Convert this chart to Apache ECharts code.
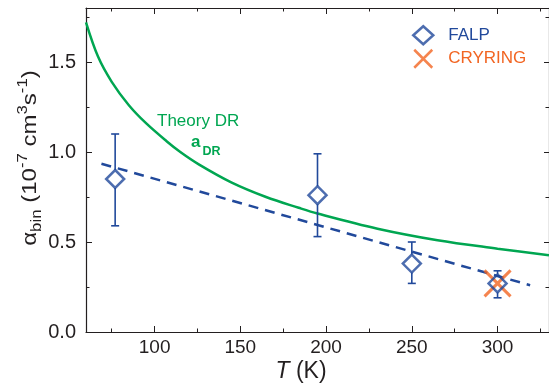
<!DOCTYPE html>
<html>
<head>
<meta charset="utf-8">
<script src="https://cdn.jsdelivr.net/npm/echarts@6/dist/echarts.min.js"></script>
<style>
  html, body { margin: 0; padding: 0; background: #ffffff; }
  #chart { width: 549px; height: 385px; }
</style>
</head>
<body>
<div id="chart"></div>
<script>
// Binary recombination rate coefficient versus temperature
const falpTemp = [77, 195, 250, 300];
const falpRate = [0.85, 0.76, 0.38, 0.27];
const falpErrLow = [0.59, 0.53, 0.27, 0.19];
const falpErrHigh = [1.10, 0.99, 0.50, 0.34];

const cryringTemp = [300];
const cryringRate = [0.27];

// Theoretical dielectronic recombination curve
const theoryTemp = [60, 67, 75, 85, 95, 107, 115, 126, 145, 165, 184, 195, 230, 265, 300, 330];
const theoryRate = [1.72, 1.53, 1.39, 1.26, 1.16, 1.06, 1.0, 0.93, 0.83, 0.75, 0.69, 0.658, 0.574, 0.51, 0.463, 0.426];

// Linear fit through the FALP data
const fitTemp = [69, 319];
const fitRate = [0.935, 0.26];

// Axis ticks
const xMajorTicks = [100, 150, 200, 250, 300];
const xMinorTicks = [75, 125, 175, 225, 275, 325];
const yMajorTicks = [0, 0.5, 1.0, 1.5];
const yMinorTicks = [0.25, 0.75, 1.25, 1.75];

const BLUE = '#21499b';
const GREEN = '#00a651';
const ORANGE = '#f26522';
const INK = '#231f20';
const FONT = 'Liberation Sans, Arial, Helvetica, sans-serif';

const X_MIN = 60, X_MAX = 330, Y_MIN = 0, Y_MAX = 1.8;
const CROSS = 'path://M0,0L10,10M10,0L0,10';

const zip = (a, b) => a.map((v, i) => [v, b[i]]);

function xAxisDef(position, ticks, len, showLine, showLabels) {
  return {
    type: 'value', position: position, min: X_MIN, max: X_MAX,
    axisLine: { show: showLine, onZero: false, lineStyle: { color: INK, width: 1.2 } },
    axisTick: { show: true, inside: true, length: len, customValues: ticks, lineStyle: { color: INK, width: 1 } },
    axisLabel: showLabels
      ? { show: true, customValues: ticks, margin: 6, color: INK, fontSize: 19, fontFamily: FONT }
      : { show: false },
    splitLine: { show: false }
  };
}
function yAxisDef(position, ticks, len, showLine, showLabels) {
  return {
    type: 'value', position: position, min: Y_MIN, max: Y_MAX,
    axisLine: { show: showLine, onZero: false, lineStyle: { color: INK, width: 1.2 } },
    axisTick: { show: true, inside: true, length: len, customValues: ticks, lineStyle: { color: INK, width: 1 } },
    axisLabel: showLabels
      ? { show: true, customValues: ticks, margin: 10, color: INK, fontSize: 20, fontFamily: FONT,
          formatter: v => v.toFixed(1) }
      : { show: false },
    splitLine: { show: false }
  };
}

const chart = echarts.init(document.getElementById('chart'), null, { renderer: 'canvas' });

const option = {
  animation: false,
  backgroundColor: '#ffffff',
  grid: { left: 86, top: 8, width: 464, height: 324 },
  xAxis: [
    xAxisDef('bottom', xMajorTicks, 6, true, true),
    xAxisDef('bottom', xMinorTicks, 3.5, false, false),
    xAxisDef('top', xMajorTicks, 6, true, false),
    xAxisDef('top', xMinorTicks, 3.5, false, false)
  ],
  yAxis: [
    yAxisDef('left', yMajorTicks, 6, true, true),
    yAxisDef('left', yMinorTicks, 3.5, false, false),
    yAxisDef('right', yMajorTicks, 5, true, false),
    yAxisDef('right', yMinorTicks, 3.5, false, false)
  ],
  legend: {
    orient: 'vertical',
    left: 412, top: 25, padding: 0,
    itemWidth: 20, itemHeight: 18, itemGap: 3,
    textStyle: { fontSize: 17, fontFamily: FONT, padding: [0, 0, 0, 10] },
    data: [
      { name: 'FALP', icon: 'diamond', textStyle: { color: BLUE },
        itemStyle: { color: 'rgba(255,255,255,0)', borderColor: BLUE, borderWidth: 2.5 } },
      { name: 'CRYRING', icon: CROSS, textStyle: { color: ORANGE },
        itemStyle: { color: 'rgba(255,255,255,0)', borderColor: ORANGE, borderWidth: 2.5 } }
    ]
  },
  graphic: [
    { type: 'text', x: 157, y: 121, silent: true,
      style: { text: 'Theory DR', fill: GREEN, fontSize: 17, fontFamily: FONT, verticalAlign: 'middle' } },
    { type: 'text', x: 191, y: 142.5, silent: true,
      style: { text: 'a', fill: GREEN, fontSize: 17, fontWeight: 'bold', fontFamily: FONT, verticalAlign: 'middle' } },
    { type: 'text', x: 202.5, y: 152, silent: true,
      style: { text: 'DR', fill: GREEN, fontSize: 12.5, fontWeight: 'bold', fontFamily: FONT, verticalAlign: 'middle' } },
    { type: 'text', x: 301, y: 372, silent: true,
      style: {
        text: '{i|T} (K)', fill: INK, fontSize: 23, fontFamily: FONT, align: 'center', verticalAlign: 'middle',
        rich: { i: { fontStyle: 'italic', fontSize: 23, fontFamily: FONT, fill: INK } }
      } },
    { type: 'text', x: 30, y: 158, rotation: Math.PI / 2, scaleX: 1.2, silent: true,
      style: {
        text: '{m|α}{sub|bin}{m| (10}{sup|-7}{m| cm}{sup|3}{m|s}{sup|-1}{m|)}',
        fill: INK, fontFamily: FONT, align: 'center', verticalAlign: 'middle',
        rich: {
          m: { fontSize: 20, lineHeight: 28, fontFamily: FONT, fill: INK, verticalAlign: 'middle' },
          sup: { fontSize: 14, lineHeight: 14, fontFamily: FONT, fill: INK, verticalAlign: 'top' },
          sub: { fontSize: 14, lineHeight: 14, fontFamily: FONT, fill: INK, verticalAlign: 'bottom' }
        }
      } }
  ],
  series: [
    {
      name: 'Theory DR', type: 'line', xAxisIndex: 0, yAxisIndex: 0,
      data: zip(theoryTemp, theoryRate),
      smooth: 0.35, symbol: 'none', clip: true,
      lineStyle: { color: GREEN, width: 2.5 }, z: 2
    },
    {
      name: 'Fit', type: 'line', xAxisIndex: 0, yAxisIndex: 0,
      data: zip(fitTemp, fitRate),
      symbol: 'none',
      lineStyle: { color: BLUE, width: 2.5, type: [10, 7] }, z: 3
    },
    {
      name: 'CRYRING', type: 'scatter', xAxisIndex: 0, yAxisIndex: 0,
      data: zip(cryringTemp, cryringRate),
      symbol: CROSS, symbolSize: 26,
      itemStyle: { color: 'rgba(255,255,255,0)', borderColor: ORANGE, borderWidth: 3 }, z: 4
    },
    {
      name: 'FALP error', type: 'custom', xAxisIndex: 0, yAxisIndex: 0,
      data: falpTemp.map((t, i) => [t, falpRate[i], falpErrLow[i], falpErrHigh[i]]),
      renderItem: function (params, api) {
        const c = api.coord([api.value(0), api.value(1)]);
        const hi = api.coord([api.value(0), api.value(3)]);
        const lo = api.coord([api.value(0), api.value(2)]);
        const half = 9, cap = 4;
        const st = { stroke: BLUE, lineWidth: 1.6 };
        const children = [];
        if (c[1] - half > hi[1]) children.push({ type: 'line', shape: { x1: c[0], y1: hi[1], x2: c[0], y2: c[1] - half }, style: st });
        if (lo[1] > c[1] + half) children.push({ type: 'line', shape: { x1: c[0], y1: c[1] + half, x2: c[0], y2: lo[1] }, style: st });
        children.push({ type: 'line', shape: { x1: c[0] - cap, y1: hi[1], x2: c[0] + cap, y2: hi[1] }, style: st });
        children.push({ type: 'line', shape: { x1: c[0] - cap, y1: lo[1], x2: c[0] + cap, y2: lo[1] }, style: st });
        return { type: 'group', children: children };
      },
      z: 5
    },
    {
      name: 'FALP', type: 'scatter', xAxisIndex: 0, yAxisIndex: 0,
      data: zip(falpTemp, falpRate),
      symbol: 'diamond', symbolSize: 18,
      itemStyle: { color: 'rgba(255,255,255,0)', borderColor: BLUE, borderWidth: 2.5 }, z: 6
    }
  ]
};

chart.setOption(option);
</script>
</body>
</html>
